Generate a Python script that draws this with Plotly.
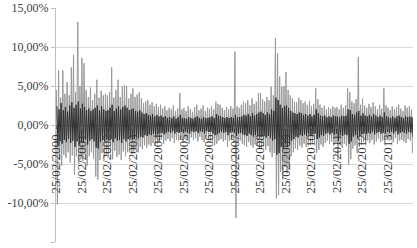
import pandas as pd
import plotly.graph_objects as go

# Monthly extremes of daily returns (%), Mar 2000 .. Feb 2014
up_2000 = [4.5, 7.0, 3.5, 7.0, 4.0, 5.5, 3.8, 7.4, 9.0, 4.2, 13.2, 5.0]
up_2001 = [8.6, 7.9, 4.5, 3.6, 4.8, 3.2, 4.0, 5.8, 3.5, 4.4, 3.8, 4.0]
up_2002 = [3.8, 4.2, 7.4, 3.5, 4.5, 5.8, 3.6, 4.9, 5.1, 5.0, 3.4, 4.0]
up_2003 = [4.7, 3.6, 3.9, 4.2, 3.4, 2.8, 3.0, 3.2, 2.6, 2.9, 2.4, 2.7]
up_2004 = [2.3, 2.6, 2.1, 2.4, 1.9, 2.2, 2.0, 2.5, 1.8, 2.1, 4.1, 2.0]
up_2005 = [2.2, 1.8, 2.4, 2.0, 1.7, 2.3, 2.6, 1.9, 2.1, 2.5, 1.8, 2.2]
up_2006 = [2.1, 2.4, 2.0, 3.0, 2.7, 2.6, 2.2, 1.9, 2.3, 2.0, 2.4, 2.1]
up_2007 = [9.4, 2.4, 2.2, 2.6, 3.0, 2.8, 3.2, 2.5, 3.4, 2.7, 3.0, 4.1]
up_2008 = [4.1, 3.3, 3.0, 3.6, 3.2, 4.9, 3.8, 11.1, 9.2, 6.2, 4.9, 5.0]
up_2009 = [6.8, 4.5, 3.8, 3.4, 3.0, 2.9, 3.5, 3.2, 2.8, 3.0, 2.6, 3.1]
up_2010 = [2.4, 2.7, 4.7, 3.3, 2.6, 2.2, 2.5, 2.0, 2.3, 2.1, 2.4, 2.2]
up_2011 = [2.3, 2.0, 2.6, 2.2, 2.5, 4.7, 4.2, 3.0, 2.8, 3.3, 8.7, 2.6]
up_2012 = [3.4, 2.5, 2.2, 2.7, 2.3, 2.9, 2.4, 2.0, 2.6, 2.1, 4.7, 2.5]
up_2013 = [2.2, 1.9, 2.4, 2.0, 2.3, 2.6, 2.1, 1.8, 2.5, 2.2, 2.4, 2.0]

lo_2000 = [-10.2, -4.5, -5.2, -3.8, -4.2, -3.5, -4.8, -3.9, -6.4, -4.0, -5.0, -4.4]
lo_2001 = [-4.6, -3.8, -5.2, -4.0, -3.5, -4.3, -6.6, -7.0, -4.5, -3.6, -4.2, -3.8]
lo_2002 = [-4.0, -3.6, -4.4, -3.3, -4.1, -3.8, -4.5, -3.4, -4.0, -3.5, -3.2, -3.7]
lo_2003 = [-3.4, -3.0, -3.5, -2.8, -3.1, -2.6, -2.9, -2.5, -2.7, -2.3, -2.6, -2.4]
lo_2004 = [-2.2, -1.9, -2.4, -2.0, -1.8, -2.1, -1.7, -2.3, -1.9, -2.0, -1.8, -2.1]
lo_2005 = [-1.8, -2.0, -2.4, -1.6, -1.9, -1.7, -2.1, -1.5, -1.9, -2.2, -1.6, -1.8]
lo_2006 = [-1.9, -2.2, -2.6, -2.4, -2.0, -1.8, -2.1, -1.9, -2.8, -2.0, -1.7, -2.2]
lo_2007 = [-11.9, -2.3, -2.0, -2.4, -2.6, -2.8, -2.2, -2.6, -2.9, -2.5, -2.7, -3.0]
lo_2008 = [-3.0, -2.8, -3.2, -2.7, -3.5, -4.1, -3.6, -9.4, -9.0, -6.0, -7.0, -5.4]
lo_2009 = [-6.2, -5.4, -4.0, -3.5, -3.0, -3.2, -2.6, -2.9, -2.4, -2.8, -2.5, -2.6]
lo_2010 = [-2.4, -2.2, -3.6, -3.2, -2.5, -2.8, -2.3, -2.0, -2.4, -2.1, -2.6, -2.2]
lo_2011 = [-4.5, -2.6, -2.9, -2.4, -2.7, -5.1, -4.4, -3.0, -2.6, -3.6, -2.8, -2.5]
lo_2012 = [-2.2, -2.4, -2.0, -2.3, -1.9, -2.5, -2.1, -1.8, -2.2, -2.0, -2.3, -1.9]
lo_2013 = [-2.0, -1.8, -2.2, -1.7, -2.4, -2.0, -1.9, -2.1, -2.3, -1.8, -2.0, -3.6]

# Dense dark core: typical monthly range of the daily returns (%)
core_up = [
    2.4, 2.0, 2.8, 1.9, 2.3, 1.7, 2.5, 2.9, 2.2, 2.6, 3.0, 2.1,   # 2000
    2.7, 2.3, 1.9, 2.1, 1.8, 2.0, 2.2, 2.5, 1.9, 2.4, 2.0, 1.8,   # 2001
    1.9, 2.2, 2.6, 1.8, 2.1, 2.4, 2.0, 2.3, 2.5, 2.2, 1.9, 2.0,   # 2002
    2.1, 1.8, 1.7, 1.9, 1.6, 1.4, 1.5, 1.3, 1.2, 1.4, 1.1, 1.3,   # 2003
    1.1, 1.2, 1.0, 1.1, 0.9, 1.0, 0.9, 1.1, 0.8, 1.0, 1.3, 0.9,   # 2004
    0.9, 0.8, 1.0, 0.9, 0.8, 1.0, 1.1, 0.9, 0.8, 1.0, 0.9, 0.9,   # 2005
    1.0, 1.1, 0.9, 1.4, 1.2, 1.1, 1.0, 0.9, 1.0, 0.9, 1.0, 0.9,   # 2006
    1.3, 1.0, 1.0, 1.1, 1.3, 1.2, 1.4, 1.1, 1.5, 1.2, 1.4, 1.6,   # 2007
    1.7, 1.5, 1.3, 1.6, 1.4, 2.0, 1.8, 3.5, 3.2, 2.6, 2.2, 2.4,   # 2008
    2.5, 2.2, 1.8, 1.6, 1.5, 1.4, 1.6, 1.5, 1.3, 1.4, 1.2, 1.4,   # 2009
    1.1, 1.3, 2.0, 1.5, 1.2, 1.1, 1.2, 1.0, 1.1, 1.0, 1.2, 1.1,   # 2010
    1.1, 1.0, 1.2, 1.1, 1.2, 2.0, 1.9, 1.4, 1.3, 1.6, 1.8, 1.2,   # 2011
    1.5, 1.2, 1.1, 1.3, 1.1, 1.4, 1.2, 1.0, 1.2, 1.0, 1.6, 1.1,   # 2012
    1.0, 0.9, 1.1, 0.9, 1.1, 1.2, 1.0, 0.9, 1.1, 1.0, 1.1, 1.0,   # 2013
]
core_lo = [
    -2.6, -2.1, -2.4, -1.9, -2.2, -1.8, -2.3, -2.0, -2.8, -2.1, -2.5, -2.2,
    -2.3, -1.9, -2.5, -2.0, -1.8, -2.1, -2.9, -3.0, -2.2, -1.9, -2.1, -1.9,
    -2.0, -1.8, -2.2, -1.7, -2.0, -1.9, -2.3, -1.8, -2.1, -1.8, -1.7, -1.9,
    -1.8, -1.6, -1.7, -1.5, -1.6, -1.3, -1.4, -1.2, -1.3, -1.1, -1.3, -1.2,
    -1.1, -1.0, -1.2, -1.0, -0.9, -1.0, -0.8, -1.1, -0.9, -1.0, -0.9, -1.0,
    -0.9, -1.0, -1.1, -0.8, -0.9, -0.8, -1.0, -0.8, -0.9, -1.1, -0.8, -0.9,
    -0.9, -1.1, -1.3, -1.2, -1.0, -0.9, -1.0, -0.9, -1.3, -1.0, -0.9, -1.0,
    -1.4, -1.1, -1.0, -1.2, -1.3, -1.4, -1.1, -1.3, -1.5, -1.3, -1.4, -1.5,
    -1.5, -1.4, -1.6, -1.4, -1.7, -2.0, -1.8, -3.8, -3.6, -2.8, -3.0, -2.5,
    -2.8, -2.5, -2.0, -1.8, -1.5, -1.6, -1.3, -1.4, -1.2, -1.4, -1.2, -1.3,
    -1.2, -1.1, -1.8, -1.6, -1.3, -1.4, -1.1, -1.0, -1.2, -1.0, -1.3, -1.1,
    -2.0, -1.3, -1.4, -1.2, -1.3, -2.4, -2.1, -1.5, -1.3, -1.7, -1.4, -1.2,
    -1.1, -1.2, -1.0, -1.1, -0.9, -1.2, -1.0, -0.9, -1.1, -1.0, -1.1, -0.9,
    -1.0, -0.9, -1.1, -0.8, -1.2, -1.0, -0.9, -1.0, -1.1, -0.9, -1.0, -1.6,
]

tick_dates = ["%d-02-25" % y for y in range(2000, 2014)]
tick_text = ["25/02/%d" % y for y in range(2000, 2014)]
y_ticks = [-15, -10, -5, 0, 5, 10, 15]
y_text = ["-15,00%", "-10,00%", "-5,00%", "0,00%", "5,00%", "10,00%", "15,00%"]

ups = sum([up_2000, up_2001, up_2002, up_2003, up_2004, up_2005, up_2006, up_2007,
           up_2008, up_2009, up_2010, up_2011, up_2012, up_2013], [])
los = sum([lo_2000, lo_2001, lo_2002, lo_2003, lo_2004, lo_2005, lo_2006, lo_2007,
           lo_2008, lo_2009, lo_2010, lo_2011, lo_2012, lo_2013], [])
vals = []
for u, l in zip(ups, los):
    vals += [u, l]
dates = pd.date_range("2000-03-01", periods=len(vals), freq="SMS")

core_vals = []
for u, l in zip(core_up, core_lo):
    core_vals += [u, l]
core_dates = dates + pd.Timedelta(days=7)

fig = go.Figure()
fig.add_trace(go.Scatter(x=dates, y=vals, mode="lines",
                         line=dict(color="#999999", width=1), hoverinfo="skip"))
fig.add_trace(go.Scatter(x=core_dates, y=core_vals, mode="lines",
                         line=dict(color="#303030", width=1), hoverinfo="skip"))

serif = "Liberation Serif"
fig.update_layout(
    width=417, height=248,
    margin=dict(l=56, r=4, t=8, b=6),
    paper_bgcolor="white", plot_bgcolor="white",
    showlegend=False,
    font=dict(family=serif, size=12, color="#404040"),
    xaxis=dict(type="date", range=["2000-02-24", "2014-02-22"],
               tickmode="array", tickvals=tick_dates, ticktext=tick_text,
               tickangle=-90, tickfont=dict(family=serif, size=13, color="#3a3a3a"),
               anchor="free", position=0.5, showgrid=False, zeroline=False,
               showline=False, ticks="outside", ticklen=3, tickcolor="#666",
               automargin=False),
    yaxis=dict(range=[-15, 15], tickmode="array", tickvals=y_ticks, ticktext=y_text,
               tickfont=dict(family=serif, size=12, color="#404040"),
               showgrid=True, gridcolor="#d9d9d9", gridwidth=1,
               zeroline=True, zerolinecolor="#333", zerolinewidth=1,
               showline=True, linecolor="#bfbfbf", linewidth=1,
               ticks="outside", ticklen=4, tickcolor="#bfbfbf",
               automargin=False),
)
fig.write_html("out.html", config={"displayModeBar": False},
               post_script="document.body.style.margin='0px';")
